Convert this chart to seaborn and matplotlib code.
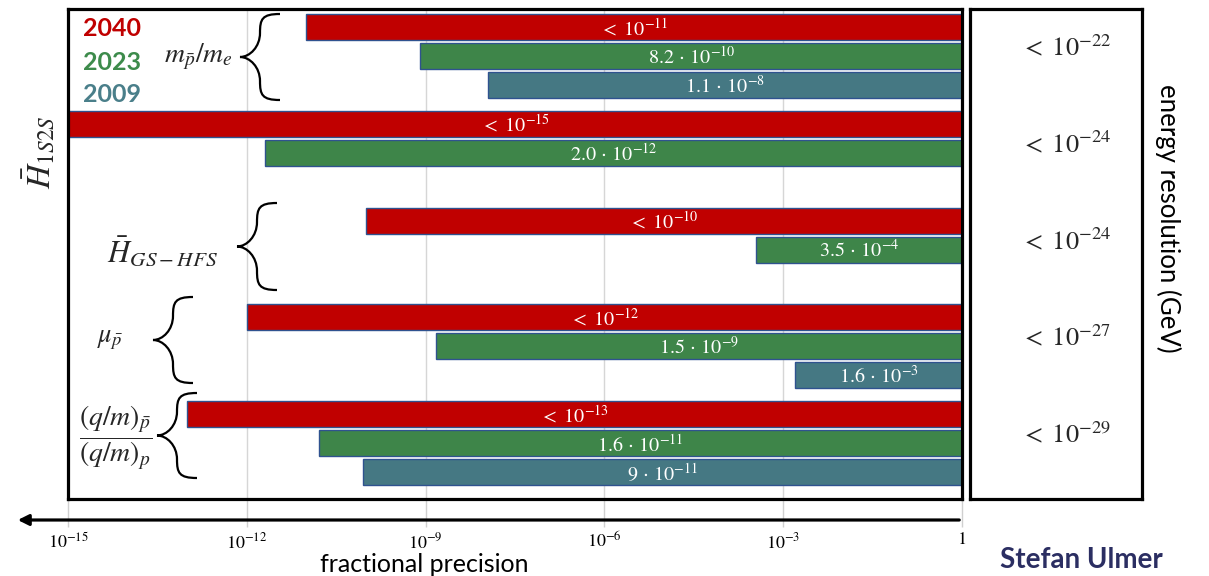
import numpy as np
import pandas as pd
import matplotlib
matplotlib.use("Agg")
import matplotlib.pyplot as plt
import seaborn as sns
from matplotlib.path import Path
from matplotlib.patches import PathPatch, FancyArrowPatch
from matplotlib.ticker import FixedLocator, FuncFormatter

# ---------------------------------------------------------------- data
quantities = ["m_ratio", "H_1S2S", "H_GS_HFS", "mu_pbar", "qm_ratio"]
years = ["2040", "2023", "2009"]

precision_2040 = [1e-11, 1e-15, 1e-10, 1e-12, 1e-13]
precision_2023 = [8.2e-10, 2.0e-12, 3.5e-4, 1.5e-9, 1.6e-11]
precision_2009 = [1.1e-8, np.nan, np.nan, 1.6e-3, 9e-11]

labels_2040 = [r"$<\;10^{-11}$", r"$<\;10^{-15}$", r"$<\;10^{-10}$", r"$<\;10^{-12}$", r"$<\;10^{-13}$"]
labels_2023 = [r"$8.2\,\cdot\,10^{-10}$", r"$2.0\,\cdot\,10^{-12}$", r"$3.5\,\cdot\,10^{-4}$",
               r"$1.5\,\cdot\,10^{-9}$", r"$1.6\,\cdot\,10^{-11}$"]
labels_2009 = [r"$1.1\,\cdot\,10^{-8}$", "", "", r"$1.6\,\cdot\,10^{-3}$", r"$9\,\cdot\,10^{-11}$"]

energy_exponents = [-22, -24, -24, -27, -29]
tick_exponents = [-15, -12, -9, -6, -3, 0]

year_colors = {"2040": "#c00000", "2023": "#3e8549", "2009": "#457883"}
legend_colors = {"2040": "#c00000", "2023": "#3d8b4b", "2009": "#4a7f8a"}

# ---------------------------------------------------------------- table
GROUP_PITCH = 3.35
rows = []
series = [(precision_2040, labels_2040), (precision_2023, labels_2023), (precision_2009, labels_2009)]
for qi, q in enumerate(quantities):
    for yi, (yr, (vals, labs)) in enumerate(zip(years, series)):
        v = vals[qi]
        if np.isnan(v):
            continue
        rows.append(dict(quantity=q, year=yr, precision=v, label=labs[qi],
                         slot=qi * GROUP_PITCH + yi))
df = pd.DataFrame(rows)
df["exponent"] = np.log10(df["precision"])

# ---------------------------------------------------------------- style
sns.set_theme(style="white")
plt.rcParams["font.family"] = ["Lato", "DejaVu Sans"]
plt.rcParams["mathtext.fontset"] = "stix"

W, H = 1209, 576
fig = plt.figure(figsize=(W / 100, H / 100), dpi=100)
fig.patch.set_facecolor("white")


def fx(x):
    return x / W


def fy(y):
    return 1 - y / H


ax = fig.add_axes([fx(68), fy(499), (962 - 68) / W, (499 - 9) / H])

sns.barplot(data=df, x="exponent", y="slot", hue="year", hue_order=years,
            palette=year_colors, saturation=1, orient="h", native_scale=True,
            dodge=False, width=0.9, edgecolor="#2f528f", linewidth=1.0,
            errorbar=None, legend=False, ax=ax)

ax.set_xlim(-15, 0)
ax.set_ylim(16.33, -0.62)
ax.set_xlabel("")
ax.set_ylabel("")
ax.set_yticks([])
ax.xaxis.set_major_locator(FixedLocator(tick_exponents))
ax.xaxis.set_major_formatter(FuncFormatter(
    lambda v, _: r"$1$" if v == 0 else r"$10^{%d}$" % int(round(v))))
ax.tick_params(axis="x", direction="out", length=20, width=1.0, color="#d0d0d0",
               labelsize=13, pad=3, labelcolor="black", bottom=True)
ax.grid(axis="x", color="#d6d6d6", lw=1.0)
ax.grid(axis="y", visible=False)
ax.set_axisbelow(True)
for s in ax.spines.values():
    s.set_color("black")
    s.set_linewidth(2.3)
    s.set_zorder(5)

# value labels inside the bars
for _, r in df.iterrows():
    ax.text(r["exponent"] / 2, r["slot"], r["label"], color="white",
            ha="center", va="center", fontsize=14.5, zorder=6)

# ---------------------------------------------------------------- energy resolution box
ax2 = fig.add_axes([fx(970), fy(499), (1142 - 970) / W, (499 - 9) / H])
ax2.set_xlim(0, 1)
ax2.set_ylim(16.33, -0.62)
ax2.set_xticks([])
ax2.set_yticks([])
ax2.set_facecolor("white")
for s in ax2.spines.values():
    s.set_color("black")
    s.set_linewidth(2.3)
for qi, e in enumerate(energy_exponents):
    yc = qi * GROUP_PITCH + 1 - 0.3
    ax2.text(0.56, yc, r"$<\;10^{%d}$" % e, ha="center", va="center", fontsize=19)

fig.text(fx(1168), fy(218), "energy resolution (GeV)", rotation=-90,
         ha="center", va="center", fontsize=18.5, color="black")

# ---------------------------------------------------------------- axis arrow and captions
arrow = FancyArrowPatch((fx(962), fy(520)), (fx(15), fy(520)), transform=fig.transFigure,
                        arrowstyle="-|>", mutation_scale=16, lw=2.3, color="black")
fig.add_artist(arrow)

fig.text(fx(424), fy(564), "fractional precision", ha="center", va="center",
         fontsize=18, color="black")
fig.text(fx(1081), fy(560), "Stefan Ulmer", ha="center", va="center",
         fontsize=20, fontweight="bold", color="#2b2e62")

# year legend
for yr, base in zip(years, [36, 70, 102]):
    fig.text(fx(83), fy(base), yr, ha="left", va="baseline", fontsize=18,
             fontweight="bold", color=legend_colors[yr])


# ---------------------------------------------------------------- group labels and braces
def brace(tip_x, end_x, y_top, y_bot):
    h = y_bot - y_top
    w = end_x - tip_x
    ym = (y_top + y_bot) / 2
    xm = tip_x + 0.5 * w
    pts = [
        (end_x, y_top),
        (xm + 0.05 * w, y_top), (xm, y_top + 0.06 * h), (xm, y_top + 0.22 * h),
        (xm, ym - 0.12 * h), (tip_x + 0.25 * w, ym), (tip_x, ym),
        (tip_x + 0.25 * w, ym), (xm, ym + 0.12 * h), (xm, y_bot - 0.22 * h),
        (xm, y_bot - 0.06 * h), (xm + 0.05 * w, y_bot), (end_x, y_bot),
    ]
    codes = [Path.MOVETO] + [Path.CURVE4] * 12
    verts = [(fx(x), fy(y)) for x, y in pts]
    fig.add_artist(PathPatch(Path(verts, codes), transform=fig.transFigure,
                             fill=False, lw=1.6, color="black", zorder=7))


brace(240, 280, 14, 100)
brace(237, 277, 203, 290)
brace(153, 193, 297, 383)
brace(157, 197, 393, 478)

fig.text(fx(198), fy(57), r"$m_{\bar{p}}/m_e$", ha="center", va="center", fontsize=20)
fig.text(fx(162), fy(252), r"$\bar{H}_{GS-HFS}$", ha="center", va="center", fontsize=22)
fig.text(fx(110), fy(340), r"$\mu_{\bar{p}}$", ha="center", va="center", fontsize=19)
fig.text(fx(116), fy(437), r"$\dfrac{(q/m)_{\bar{p}}}{(q/m)_{p}}$", ha="center",
         va="center", fontsize=20)
fig.text(fx(38), fy(152), r"$\bar{H}_{1S2S}$", rotation=90, ha="center", va="center",
         fontsize=24)

fig.savefig("out.png", dpi=100)
